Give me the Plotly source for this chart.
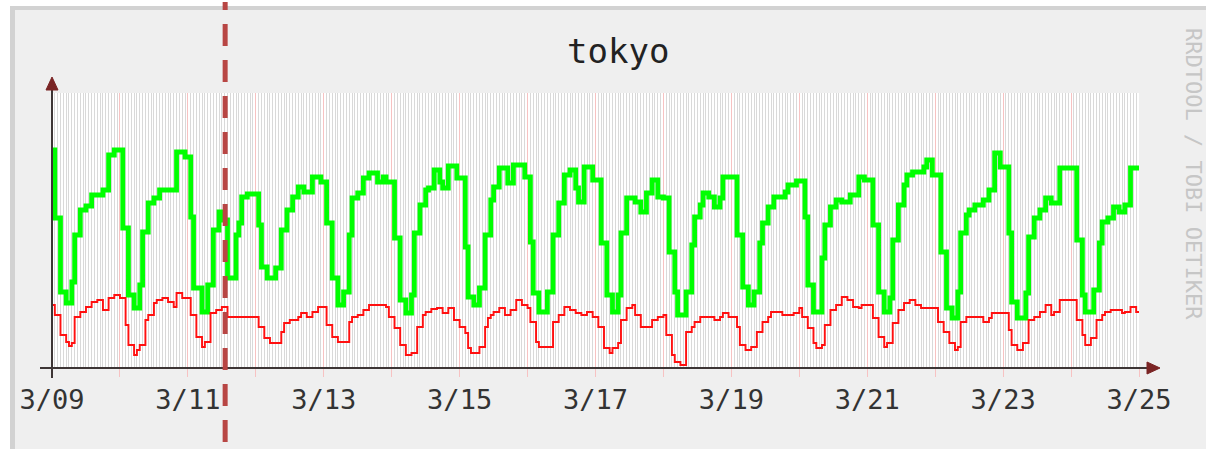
import pandas as pd
import plotly.graph_objects as go

# ---- data (hours since 3/09 00:00, arbitrary units) ----
BASE = "2011-03-09"
green_hours = [0,1,3,5,7,8,10,12,14,18,20,22,25,27,29,31,32,34,36,38,44,47,49,50,53,55,57,59,60,62,65,66,67,69,73,74,76,79,81,83,85,87,89,92,95,97,99,101,103,105,106,108,110,112,115,117,118,121,123,125,127,128,130,132,133,135,137,138,140,143,146,147,149,151,153,155,156,158,161,163,167,169,170,172,175,177,179,181,183,185,186,188,191,194,196,198,200,201,203,206,208,210,212,214,216,218,220,221,224,226,227,229,230,232,234,236,237,242,244,246,248,250,251,253,255,259,260,263,266,267,269,272,273,275,277,279,282,285,287,290,292,294,296,297,299,301,302,304,308,309,311,314,316,318,320,321,323,324,326,329,331,333,335,338,339,341,344,345,347,349,351,353,356,362,364,365,368,370,371,373,375,377,379,381,384]
green_vals = [218,150,76,65,86,133,158,162,173,178,213,218,140,73,60,83,136,165,170,178,216,211,151,80,56,83,138,156,148,90,133,145,171,174,143,101,90,100,138,158,171,181,176,191,186,145,90,63,76,133,170,175,190,195,186,191,186,130,68,55,73,135,163,178,180,198,186,180,202,190,121,71,63,80,133,168,181,200,185,203,191,126,75,56,76,133,165,193,198,180,166,201,188,125,73,56,73,135,170,166,156,175,188,171,170,116,76,53,76,123,151,163,175,171,161,170,191,133,81,63,76,125,145,161,171,176,183,187,151,83,56,110,143,161,168,166,173,191,188,143,76,56,70,128,163,183,193,196,201,208,193,116,60,50,76,135,153,158,163,168,178,215,201,135,66,50,75,131,150,158,170,165,200,128,73,56,78,125,146,150,161,156,163,200,200]

red_hours = [0,1,3,5,6,7,8,10,12,14,16,18,20,22,24,26,27,29,30,31,33,34,36,37,39,41,43,44,46,49,51,53,54,56,58,60,62,73,75,77,81,82,84,87,88,90,92,94,97,99,101,105,106,108,110,112,118,119,121,123,125,127,129,131,132,134,136,138,140,142,144,146,147,148,151,153,154,155,156,158,160,162,164,166,168,169,171,172,177,179,181,183,185,187,189,191,193,195,197,198,200,201,203,205,206,208,212,214,216,217,219,220,222,224,226,227,229,234,236,237,239,242,243,245,247,249,251,253,254,258,262,264,265,267,269,270,272,273,275,277,279,281,283,285,286,290,292,294,295,297,299,301,303,305,307,313,315,317,319,320,321,323,329,331,332,338,339,341,343,345,347,349,351,353,354,356,362,364,365,367,369,371,372,374,378,379,381,383,384]
red_vals = [63,53,33,26,22,25,51,56,61,66,68,58,70,73,70,43,23,13,18,23,48,53,65,68,70,66,61,75,70,53,31,21,26,55,58,61,51,41,30,25,36,45,48,51,55,51,56,61,43,31,26,46,51,53,58,63,61,51,40,23,13,15,41,53,56,59,60,55,60,48,41,35,20,15,21,41,50,53,56,60,53,58,68,63,60,46,26,21,46,53,61,58,55,53,56,51,41,20,15,20,25,48,60,63,53,41,48,51,53,33,13,6,3,36,41,46,51,48,51,55,51,41,23,18,21,36,46,51,56,53,55,60,51,40,25,20,23,43,58,63,71,68,61,60,63,50,31,21,25,45,58,65,68,63,60,46,36,25,18,21,46,51,46,50,55,38,23,18,25,48,51,56,63,53,56,68,48,33,23,30,48,53,56,58,55,56,61,56,56]

day_labels = ["3/09","","3/11","","3/13","","3/15","","3/17","","3/19","","3/21","","3/23","","3/25"]
title_text = "tokyo"
side_text = "RRDTOOL / TOBI OETIKER"
event_time = "2011-03-11 13:10"

base = pd.Timestamp(BASE)
gx = base + pd.to_timedelta(green_hours, unit="h")
rx = base + pd.to_timedelta(red_hours, unit="h")
day_ticks = [base + pd.Timedelta(days=i) for i in range(len(day_labels))]

W, H = 1206, 449
L, R, T, B = 52, 1139, 93, 368


def px(x):
    return (x - L) / (R - L)


def py(y):
    return (B - y) / (B - T)


fig = go.Figure()
fig.add_trace(go.Scatter(x=gx, y=green_vals, mode="lines", line=dict(color="#00ff00", width=4.8, shape="hv"),
                         showlegend=False, hoverinfo="skip"))
fig.add_trace(go.Scatter(x=rx, y=red_vals, mode="lines", line=dict(color="#ff1010", width=1.9, shape="hv"),
                         showlegend=False, hoverinfo="skip"))

shapes = []
# outer frame
shapes.append(dict(type="rect", xref="paper", yref="paper", x0=px(0), x1=px(W), y0=py(0), y1=py(6),
                   fillcolor="white", line_width=0, layer="below"))
shapes.append(dict(type="rect", xref="paper", yref="paper", x0=px(0), x1=px(10), y0=py(0), y1=py(H),
                   fillcolor="white", line_width=0, layer="below"))
shapes.append(dict(type="rect", xref="paper", yref="paper", x0=px(10), x1=px(W), y0=py(6), y1=py(10),
                   fillcolor="#d2d2d2", line_width=0, layer="below"))
shapes.append(dict(type="rect", xref="paper", yref="paper", x0=px(10), x1=px(15), y0=py(6), y1=py(H),
                   fillcolor="#d2d2d2", line_width=0, layer="below"))
# axes
axis_col = "#3d3535"
arrow_col = "#7a2424"
shapes.append(dict(type="line", xref="paper", yref="paper", x0=px(40), x1=px(1150), y0=0, y1=0,
                   line=dict(color=axis_col, width=2)))
shapes.append(dict(type="line", xref="paper", yref="paper", x0=0, x1=0, y0=py(378), y1=py(86),
                   line=dict(color=axis_col, width=2)))
shapes.append(dict(type="path", xref="paper", yref="paper",
                   path=f"M {px(1147)} {py(362)} L {px(1160)} {py(368)} L {px(1147)} {py(374)} Z",
                   fillcolor=arrow_col, line=dict(color=arrow_col, width=1)))
shapes.append(dict(type="path", xref="paper", yref="paper",
                   path=f"M {px(46)} {py(90)} L {px(52)} {py(77)} L {px(58)} {py(90)} Z",
                   fillcolor=arrow_col, line=dict(color=arrow_col, width=1)))
# event marker
shapes.append(dict(type="line", xref="x", yref="paper", x0=event_time, x1=event_time, y0=py(442), y1=py(2),
                   line=dict(color="#b84644", width=5, dash="22px,14px")))

fig.update_layout(
    width=W, height=H,
    margin=dict(l=L, r=W - R, t=T, b=H - B, pad=0),
    paper_bgcolor="#efefef", plot_bgcolor="white",
    shapes=shapes,
    xaxis=dict(
        type="date", range=[day_ticks[0], day_ticks[-1]],
        tickvals=day_ticks, ticktext=day_labels,
        showgrid=True, gridcolor="#f7c2c2", gridwidth=1.3,
        ticks="outside", ticklen=8, tickcolor="#f7c2c2", tickwidth=1.3,
        tickfont=dict(family="DejaVu Sans Mono", size=27, color="#333333"),
        ticklabelstandoff=0,
        minor=dict(dtick=3600000, showgrid=True, gridcolor="#d9d9d9", gridwidth=1.2, ticks=""),
        showline=False, zeroline=False, fixedrange=True,
    ),
    yaxis=dict(range=[0, B - T], showgrid=False, showticklabels=False, zeroline=False,
               showline=False, ticks="", fixedrange=True),
    annotations=[
        dict(text=title_text, xref="paper", yref="paper", x=px(618), y=py(51), xanchor="center",
             yanchor="middle", showarrow=False,
             font=dict(family="DejaVu Sans Mono", size=34, color="#222222")),
        dict(text=side_text, xref="paper", yref="paper", x=px(1194), y=py(174), xanchor="center",
             yanchor="middle", showarrow=False, textangle=90,
             font=dict(family="DejaVu Sans Mono", size=22, color="#c6c6c6")),
    ],
)

fig.write_html("out.html", config={"displayModeBar": False},
               post_script="document.body.style.margin='0';document.body.style.overflow='hidden';")
